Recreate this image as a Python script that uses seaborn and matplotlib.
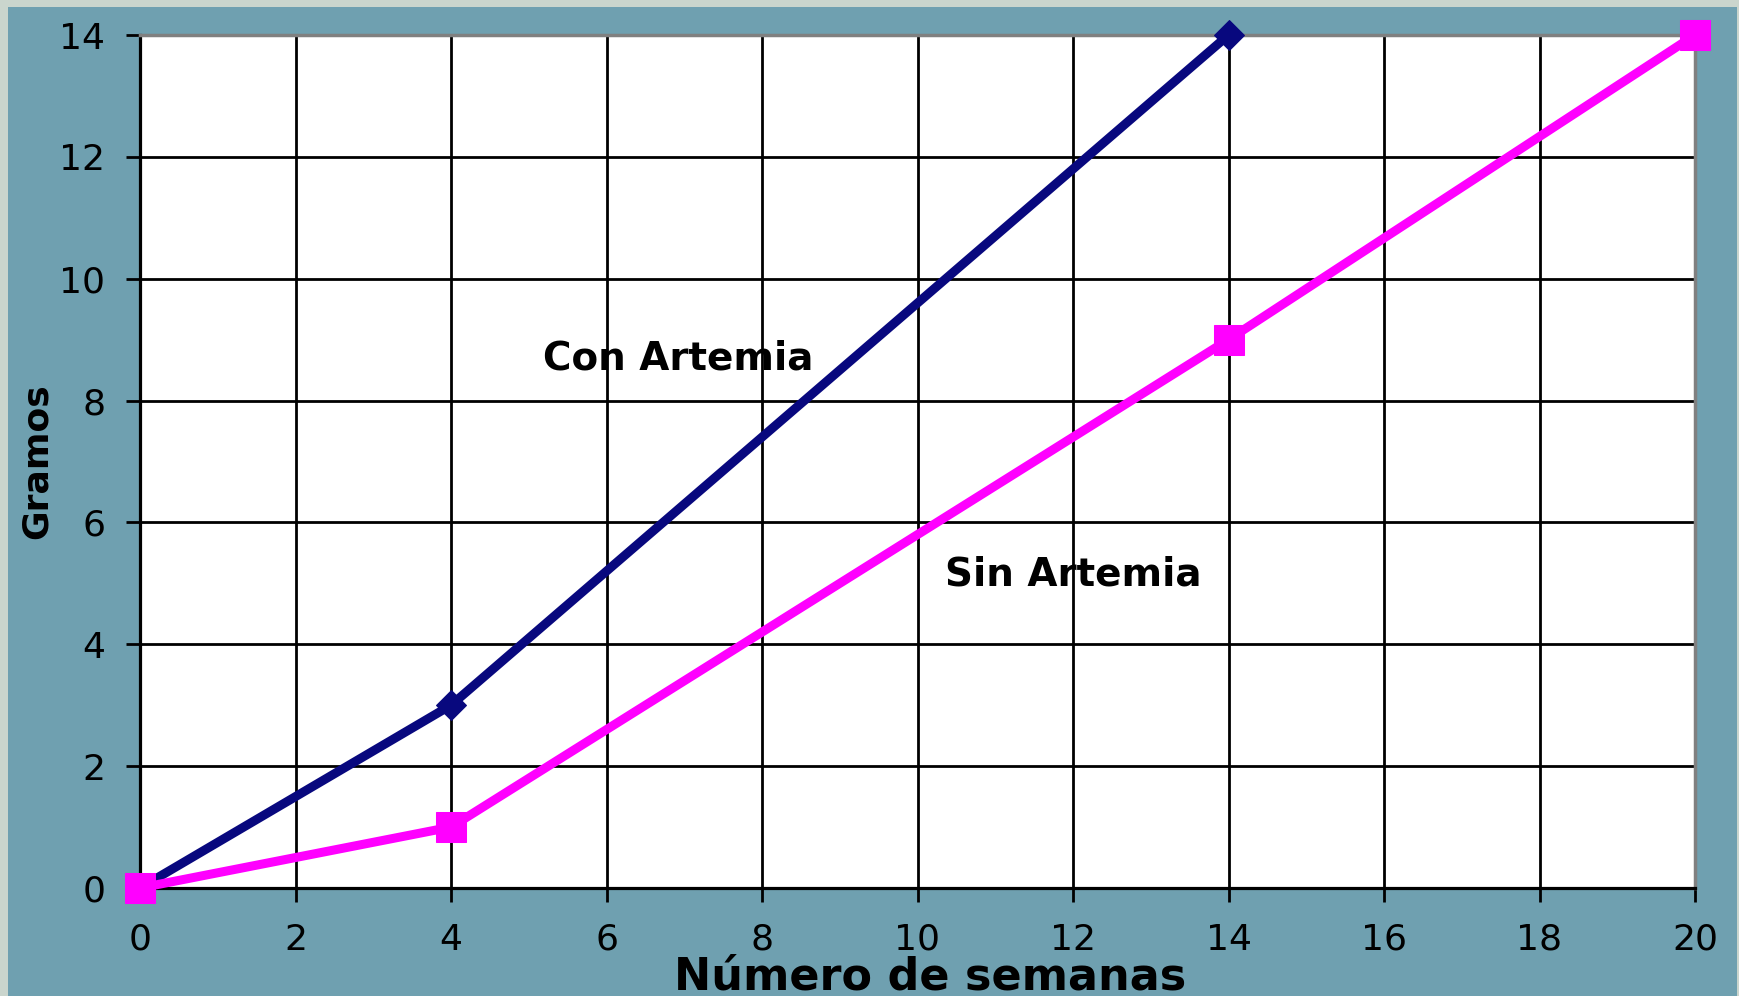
import matplotlib
matplotlib.use("Agg")
import matplotlib.pyplot as plt
import seaborn as sns
import pandas as pd
from matplotlib.patches import Rectangle

# ---- data ----
semanas_con = [0, 4, 14]
gramos_con = [0, 3, 14]
semanas_sin = [0, 4, 14, 20]
gramos_sin = [0, 1, 9, 14]
x_ticks = [0, 2, 4, 6, 8, 10, 12, 14, 16, 18, 20]
y_ticks = [0, 2, 4, 6, 8, 10, 12, 14]
serie_con = "Con Artemia"
serie_sin = "Sin Artemia"
x_label = "Número de semanas"
y_label = "Gramos"

df_con = pd.DataFrame({"semanas": semanas_con, "gramos": gramos_con})
df_sin = pd.DataFrame({"semanas": semanas_sin, "gramos": gramos_sin})

TEAL = "#6FA0B0"
BORDER = "#CAD5CD"
NAVY = "#08087E"
MAGENTA = "#FF00FF"

sns.set_style("white")
plt.rcParams["font.family"] = ["DejaVu Sans"]

W, H = 1740, 996
fig = plt.figure(figsize=(W / 100, H / 100), dpi=100, facecolor=TEAL)

# light border strips (left, top, right)
fig.patches.append(Rectangle((0, 0), 8 / W, 1, transform=fig.transFigure,
                             facecolor=BORDER, edgecolor="none", zorder=0))
fig.patches.append(Rectangle((0, 1 - 7 / H), 1, 7 / H, transform=fig.transFigure,
                             facecolor=BORDER, edgecolor="none", zorder=0))
fig.patches.append(Rectangle((1 - 3 / W, 0), 3 / W, 1, transform=fig.transFigure,
                             facecolor=BORDER, edgecolor="none", zorder=0))

left, right, top, bottom = 140, 1695, 35, 888
ax = fig.add_axes([left / W, 1 - bottom / H, (right - left) / W, (bottom - top) / H])
ax.set_facecolor("white")

sns.lineplot(data=df_con, x="semanas", y="gramos", ax=ax, color=NAVY, lw=6.5,
             marker="D", markersize=15, markeredgecolor=NAVY, markerfacecolor=NAVY,
             estimator=None, sort=False, clip_on=False, zorder=4)
sns.lineplot(data=df_sin, x="semanas", y="gramos", ax=ax, color=MAGENTA, lw=6.5,
             marker="s", markersize=22, markeredgecolor=MAGENTA, markerfacecolor=MAGENTA,
             estimator=None, sort=False, clip_on=False, zorder=4)

ax.set_xlim(0, 20)
ax.set_ylim(0, 14)
ax.set_xticks(x_ticks)
ax.set_yticks(y_ticks)
ax.set_axisbelow(True)
ax.grid(True, color="black", linewidth=2, linestyle="-")

for side in ["left", "bottom"]:
    ax.spines[side].set_color("black")
    ax.spines[side].set_linewidth(2.3)
for side in ["top", "right"]:
    ax.spines[side].set_color("#808080")
    ax.spines[side].set_linewidth(2.5)
    ax.spines[side].set_visible(True)

ax.tick_params(axis="both", which="major", direction="out", length=10, width=2,
               color="black", labelsize=26, labelcolor="black",
               bottom=True, left=True, top=False, right=False)
ax.tick_params(axis="x", pad=15)
ax.tick_params(axis="y", pad=15)

ax.text(6.92, 8.69, serie_con, ha="center", va="center", fontsize=28,
        fontweight="bold", color="black", zorder=5)
ax.text(12.0, 5.14, serie_sin, ha="center", va="center", fontsize=28,
        fontweight="bold", color="black", zorder=5)

ax.set_xlabel(x_label, fontsize=32, fontweight="bold", color="black", va="center")
ax.xaxis.set_label_coords((930 - left) / (right - left), (bottom - 977) / (bottom - top))
ax.set_ylabel(y_label, fontsize=26, fontweight="bold", color="black", va="center")
ax.yaxis.set_label_coords((37 - left) / (right - left), (bottom - 461) / (bottom - top))

fig.savefig("out.png", dpi=100, facecolor=TEAL)
